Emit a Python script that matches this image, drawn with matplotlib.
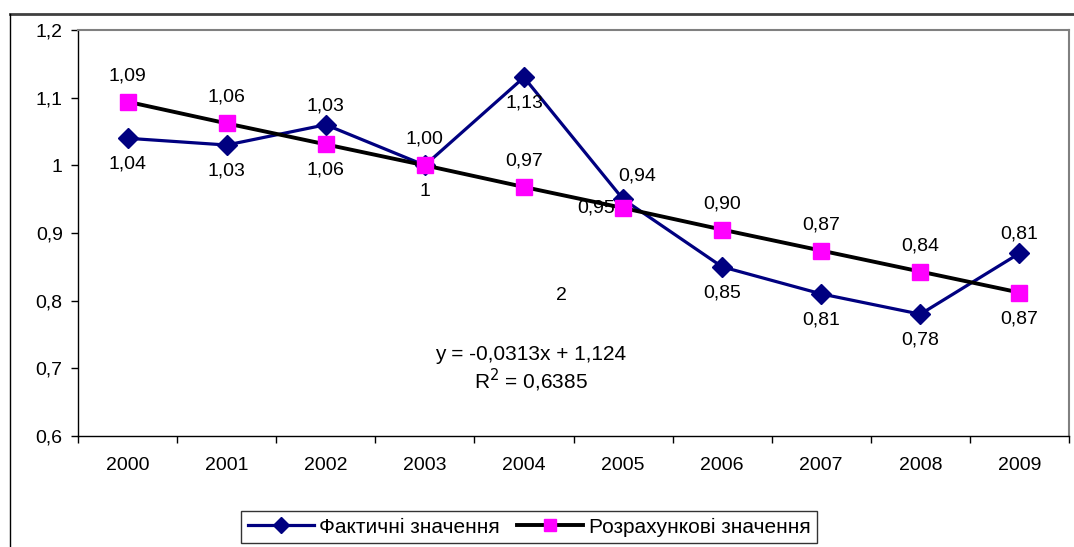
import matplotlib.pyplot as plt
from matplotlib.lines import Line2D
from matplotlib.ticker import FuncFormatter

plt.rcParams['font.family'] = ['Liberation Sans', 'DejaVu Sans']

# --- data ---
years = ['2000', '2001', '2002', '2003', '2004', '2005', '2006', '2007', '2008', '2009']
actual = [1.04, 1.03, 1.06, 1.00, 1.13, 0.95, 0.85, 0.81, 0.78, 0.87]
calculated = [1.094, 1.062, 1.031, 1.000, 0.968, 0.937, 0.905, 0.874, 0.843, 0.812]

# data labels as they appear on the chart (upper row / lower row)
upper_labels = ['1,09', '1,06', '1,03', '1,00', '0,97', '0,94', '0,90', '0,87', '0,84', '0,81']
lower_labels = ['1,04', '1,03', '1,06', '1', '1,13', '0,95', '0,85', '0,81', '0,78', '0,87']
# which series each label sits next to: 'a' actual, 'c' calculated
upper_anchor = ['c', 'c', 'a', 'c', 'c', 'c', 'c', 'c', 'c', 'a']
lower_anchor = ['a', 'a', 'c', 'a', 'a', 'c', 'a', 'a', 'a', 'c']

eq_text = 'y = -0,0313x + 1,124'
r2_text = 'R$^2$ = 0,6385'

navy = '#000080'
magenta = '#FF00FF'
FS = 14

fig = plt.figure(figsize=(10.74, 5.47), dpi=100)
ax = fig.add_axes([78 / 1074, 1 - 436 / 547, 991 / 1074, 406 / 547])

x = list(range(len(years)))
ax.plot(x, actual, color=navy, lw=2.3, marker='D', ms=10, mfc=navy, mec=navy,
        label='Фактичні значення', zorder=3)
ax.plot(x, calculated, color='black', lw=2.8, marker='s', ms=11.5, mfc=magenta, mec=magenta,
        label='Розрахункові значення', zorder=4)

# data labels
for i in x:
    up_val = actual[i] if upper_anchor[i] == 'a' else calculated[i]
    lo_val = actual[i] if lower_anchor[i] == 'a' else calculated[i]
    dx_up, dy_up = 0, 26
    dx_lo, dy_lo = 0, -26
    if i in (2, 9):
        dy_up = 19
    if i == 5:
        dx_up, dy_up = 14, 32
        dx_lo, dy_lo = -27, 0
    ax.annotate(upper_labels[i], (i, up_val), xytext=(dx_up, dy_up),
                textcoords='offset pixels', ha='center', va='center', fontsize=FS)
    ax.annotate(lower_labels[i], (i, lo_val), xytext=(dx_lo, dy_lo),
                textcoords='offset pixels', ha='center', va='center', fontsize=FS)

ax.text(0.488, 0.345, '2', transform=ax.transAxes, ha='center', va='center', fontsize=FS)
ax.text(0.457, 0.20, eq_text, transform=ax.transAxes, ha='center', va='center', fontsize=15)
ax.text(0.457, 0.138, r2_text, transform=ax.transAxes, ha='center', va='center', fontsize=15)

# axes styling
ax.set_xlim(-0.5, len(years) - 0.5)
ax.set_ylim(0.6, 1.2)
ax.set_yticks([0.6, 0.7, 0.8, 0.9, 1.0, 1.1, 1.2])
ax.yaxis.set_major_formatter(FuncFormatter(
    lambda v, p: ('%.1f' % v).replace('.', ',').replace(',0', '')))
ax.tick_params(axis='y', direction='out', length=5, width=1, pad=6, labelsize=FS)

ax.set_xticks(x)
ax.set_xticklabels(years)
ax.tick_params(axis='x', which='major', length=0, pad=15, labelsize=FS)
ax.set_xticks([i + 0.5 for i in range(-1, len(years))], minor=True)
ax.tick_params(axis='x', which='minor', direction='out', length=5, width=1)

for side in ['top', 'right']:
    ax.spines[side].set_color('#808080')
    ax.spines[side].set_linewidth(1.5)
for side in ['left', 'bottom']:
    ax.spines[side].set_color('black')
    ax.spines[side].set_linewidth(1)

# outer chart frame (partially cropped)
fig.add_artist(Line2D([10 / 1074, 1.0], [1 - 14 / 547, 1 - 14 / 547], color='#404040', lw=2))
fig.add_artist(Line2D([10 / 1074, 10 / 1074], [0, 1 - 14 / 547], color='black', lw=1))

leg = fig.legend(loc='center', bbox_to_anchor=(529 / 1074, 1 - 527 / 547), ncol=2,
                 frameon=True, fancybox=False, edgecolor='black', fontsize=15,
                 handlelength=3.2, handletextpad=0.25, columnspacing=0.8,
                 borderpad=0.3, borderaxespad=0, markerscale=0.8)
leg.get_frame().set_linewidth(1)

fig.savefig('out.png', dpi=100)
